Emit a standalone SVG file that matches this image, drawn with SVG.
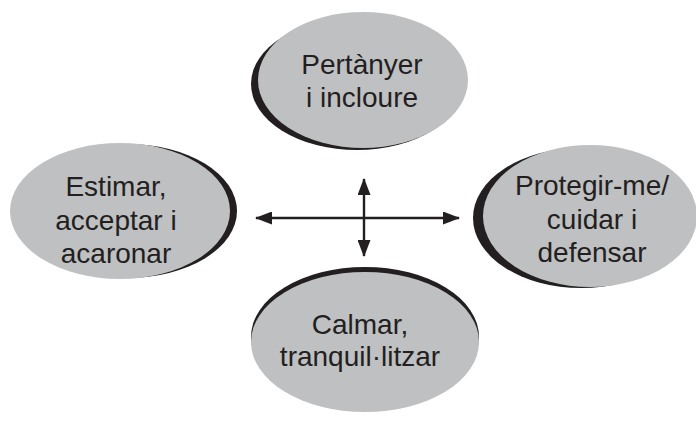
<svg xmlns="http://www.w3.org/2000/svg" width="696" height="421" viewBox="0 0 696 421">
<style>
.sh{fill:#231f20}
.el{fill:#bfc0c2}
.t{font-family:"Liberation Sans",Arial,sans-serif;font-size:28px;fill:#231f20;text-anchor:middle}
.ln{stroke:#231f20;stroke-width:2.4;fill:none}
</style>
<defs>
<marker id="ah" viewBox="0 0 17 13" refX="16" refY="6.5" markerWidth="17" markerHeight="13" markerUnits="userSpaceOnUse" orient="auto-start-reverse">
<path d="M0,0 L17,6.5 L0,13 z" fill="#231f20"/>
</marker>
</defs>
<g id="top">
<ellipse class="sh" cx="357" cy="84" rx="106" ry="66"/>
<ellipse class="el" cx="363" cy="80" rx="105" ry="68"/>
<text class="t" x="362" y="74">Pertànyer</text>
<text class="t" x="362" y="107">i incloure</text>
</g>
<g id="left">
<ellipse class="sh" cx="127" cy="211" rx="110" ry="67"/>
<ellipse class="el" cx="120" cy="211" rx="110" ry="68"/>
<text class="t" x="116" y="196">Estimar,</text>
<text class="t" x="116" y="230">acceptar i</text>
<text class="t" x="116" y="263">acaronar</text>
</g>
<g id="right">
<ellipse class="sh" cx="581" cy="218" rx="108" ry="70"/>
<ellipse class="el" cx="590" cy="216" rx="107" ry="71"/>
<text class="t" x="592" y="195">Protegir-me/</text>
<text class="t" x="592" y="229">cuidar i</text>
<text class="t" x="592" y="262">defensar</text>
</g>
<g id="bottom">
<ellipse class="sh" cx="365" cy="337" rx="114" ry="70"/>
<ellipse class="el" cx="365" cy="342" rx="114" ry="70"/>
<text class="t" x="360" y="334">Calmar,</text>
<text class="t" x="360" y="366">tranquil·litzar</text>
</g>
<g id="connectors">
<line class="ln" x1="256" y1="218" x2="459" y2="218" marker-start="url(#ah)" marker-end="url(#ah)"/>
<line class="ln" x1="364" y1="179" x2="364" y2="256" marker-start="url(#ah)" marker-end="url(#ah)"/>
</g>
</svg>
